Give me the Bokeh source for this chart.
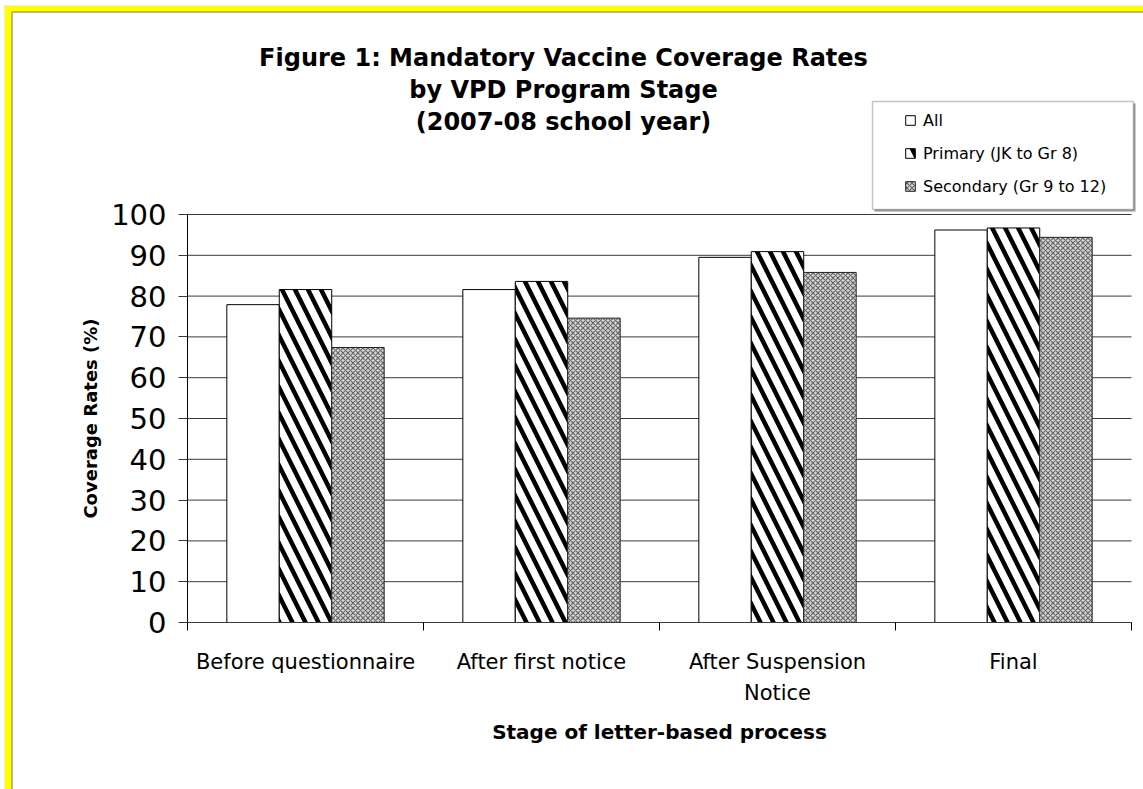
from bokeh.plotting import figure
from bokeh.models import (FixedTicker, Legend, LegendItem, BoxAnnotation, Label, Range1d)
from bokeh.embed import file_html
from bokeh.resources import INLINE

# Coverage rates (%) at each stage of the letter-based process
stages = ["Before questionnaire", "After first notice", "After Suspension\nNotice", "Final"]
series_names = ["All", "Primary (JK to Gr 8)", "Secondary (Gr 9 to 12)"]
all_rates = [77.9, 81.6, 89.5, 96.2]
primary_rates = [81.6, 83.6, 90.9, 96.7]
secondary_rates = [67.4, 74.6, 85.8, 94.4]
y_ticks = list(range(0, 101, 10))
title_lines = ["Figure 1: Mandatory Vaccine Coverage Rates",
               "by VPD Program Stage",
               "(2007-08 school year)"]
x_title = "Stage of letter-based process"
y_title = "Coverage Rates (%)"

FONT = "DejaVu Sans"
W, H = 1143, 789

# placement of the plotting area on the page (pixels)
AREA_L, AREA_R, AREA_T, AREA_B = 187, 1131, 214, 622
n = len(stages)
Y_MIN, Y_MAX = 0, 100
px_per_cat = (AREA_R - AREA_L) / n
px_per_unit = (AREA_B - AREA_T) / (Y_MAX - Y_MIN)
x0 = -0.5 - AREA_L / px_per_cat
y0 = Y_MIN - (H - AREA_B) / px_per_unit

p = figure(width=W, height=H,
           x_range=Range1d(x0, x0 + W / px_per_cat),
           y_range=Range1d(y0, y0 + H / px_per_unit),
           output_backend="svg", toolbar_location=None, min_border=0)
p.title.visible = False
p.background_fill_color = "white"
p.border_fill_color = "white"
p.outline_line_color = None
p.xgrid.visible = False
p.ygrid.visible = False

# horizontal gridlines across the category span
p.segment(x0=[-0.5] * len(y_ticks), x1=[n - 0.5] * len(y_ticks),
          y0=y_ticks, y1=y_ticks, line_color="#3a3a3a", line_width=1)

# clustered bars: three bars per stage, gap of 1.5 bar widths between clusters
bw = 1 / 4.5
centers = list(range(n))
r_all = p.vbar(x=[c - bw for c in centers], top=all_rates, width=bw,
               fill_color="white", line_color="black", line_width=1)
r_pri = p.vbar(x=centers, top=primary_rates, width=bw,
               fill_color="white", line_color="black", line_width=1,
               hatch_pattern="left_diagonal_line", hatch_color="black",
               hatch_scale=26, hatch_weight=4.5)
r_sec = p.vbar(x=[c + bw for c in centers], top=secondary_rates, width=bw,
               fill_color="#d6d6d6", line_color="#222222", line_width=1,
               hatch_pattern="diagonal_cross", hatch_color="#686868",
               hatch_scale=5, hatch_weight=1.2)

# value axis, pinned to the left edge of the category span
ax_y = p.yaxis[0]
ax_y.fixed_location = -0.5
ax_y.bounds = (Y_MIN, Y_MAX)
ax_y.ticker = FixedTicker(ticks=y_ticks)
ax_y.major_tick_out = 9
ax_y.major_tick_in = 0
ax_y.minor_tick_line_color = None
ax_y.axis_line_color = "black"
ax_y.major_tick_line_color = "#3a3a3a"
ax_y.major_label_text_font = FONT
ax_y.major_label_text_font_size = "29px"
ax_y.major_label_text_color = "black"
ax_y.major_label_standoff = 12
ax_y.axis_label = y_title
ax_y.axis_label_text_font = FONT
ax_y.axis_label_text_font_size = "18px"
ax_y.axis_label_text_font_style = "bold"
ax_y.axis_label_text_color = "black"
ax_y.axis_label_standoff = 7

# category axis at zero: labels at cluster centres, tick marks between clusters
ax_x = p.xaxis[0]
ax_x.fixed_location = Y_MIN
ax_x.bounds = (-0.5, n - 0.5)
ax_x.ticker = FixedTicker(ticks=centers, minor_ticks=[c - 0.5 for c in range(n + 1)])
ax_x.major_label_overrides = {c: s for c, s in zip(centers, stages)}
ax_x.major_tick_line_color = None
ax_x.major_tick_out = 0
ax_x.major_tick_in = 0
ax_x.minor_tick_out = 8
ax_x.minor_tick_in = 0
ax_x.minor_tick_line_color = "black"
ax_x.axis_line_color = "#3a3a3a"
ax_x.major_label_text_font = FONT
ax_x.major_label_text_font_size = "21px"
ax_x.major_label_text_color = "black"
ax_x.major_label_text_line_height = 1.3
ax_x.major_label_standoff = 19
ax_x.axis_label = x_title
ax_x.axis_label_text_font = FONT
ax_x.axis_label_text_font_size = "20px"
ax_x.axis_label_text_font_style = "bold"
ax_x.axis_label_text_color = "black"
ax_x.axis_label_standoff = 12

CANVAS = dict(left_units="canvas", right_units="canvas",
              top_units="canvas", bottom_units="canvas")

# page frame: yellow strip with a dark rule along the top and left
for l, r, t, b in [(4, 11, 5, 800), (4, 1200, 5, 11)]:
    p.add_layout(BoxAnnotation(left=l, right=r, top=t, bottom=b,
                               fill_color="yellow", fill_alpha=1, line_color=None,
                               **CANVAS))
p.add_layout(BoxAnnotation(left=11.5, right=1300, top=11.5, bottom=1300,
                           fill_alpha=0, line_color="#111111", line_width=2,
                           **CANVAS))

# title, three centred lines
for i, line in enumerate(title_lines):
    p.add_layout(Label(x=563, y=57 + 32 * i, x_units="canvas", y_units="canvas",
                       text=line, text_align="center", text_baseline="middle",
                       text_font=FONT, text_font_size="24px", text_font_style="bold",
                       text_color="black"))

# legend box with a soft shadow
p.add_layout(BoxAnnotation(left=874, right=1135, top=103, bottom=211,
                           fill_color="#9a9a9a", fill_alpha=1, line_color=None,
                           **CANVAS))
p.add_layout(BoxAnnotation(left=872, right=1133, top=101, bottom=209,
                           fill_color="white", fill_alpha=1,
                           line_color="#404040", line_width=1.5, **CANVAS))

legend = Legend(items=[LegendItem(label=s, renderers=[r])
                       for s, r in zip(series_names, [r_all, r_pri, r_sec])],
                location=(904, H - 196),
                orientation="vertical",
                padding=0, margin=0, spacing=13,
                glyph_width=12, glyph_height=12,
                label_height=20, label_standoff=7,
                label_text_font=FONT, label_text_font_size="16px",
                label_text_color="black", label_text_baseline="middle",
                border_line_color=None, background_fill_alpha=0)
p.add_layout(legend)

open("out.html", "w").write(file_html(p, INLINE))
